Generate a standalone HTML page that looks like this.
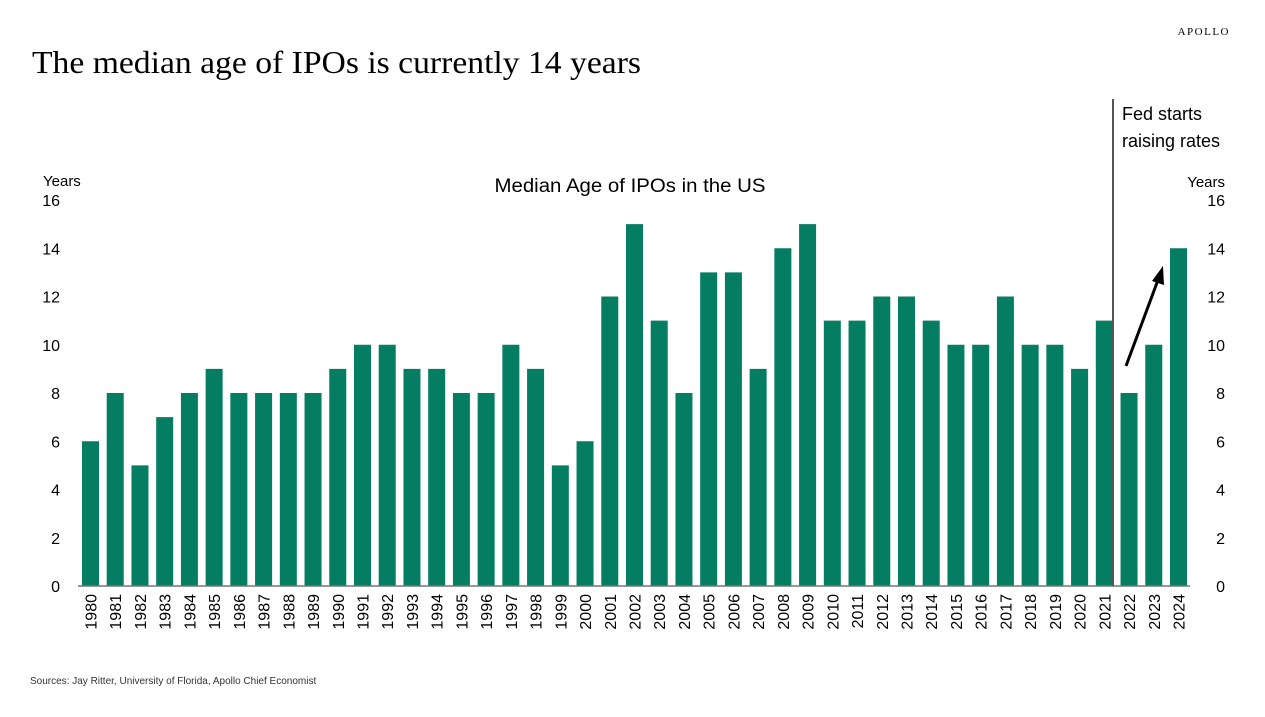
<!DOCTYPE html>
<html><head><meta charset="utf-8"><style>
body{margin:0;width:1265px;height:712px;background:#fff;overflow:hidden;font-family:"Liberation Sans",sans-serif}
</style></head><body>
<svg width="1265" height="712" xmlns="http://www.w3.org/2000/svg">
<text x="1230" y="35" text-anchor="end" font-family="Liberation Serif" font-size="11" letter-spacing="1.5">APOLLO</text>
<text x="32" y="73" font-family="Liberation Serif" font-size="32" textLength="609" lengthAdjust="spacingAndGlyphs">The median age of IPOs is currently 14 years</text>
<text x="630" y="192" text-anchor="middle" font-size="19" textLength="271" lengthAdjust="spacingAndGlyphs">Median Age of IPOs in the US</text>
<text x="43" y="186" font-size="15">Years</text>
<text x="1225" y="187" text-anchor="end" font-size="15">Years</text>
<g id="bars"></g><g id="ticks"></g>
<line x1="1113" y1="99" x2="1113" y2="586" stroke="#555" stroke-width="2"/>
<text x="1122" y="120" font-size="18"><tspan x="1122">Fed starts</tspan><tspan x="1122" dy="27">raising rates</tspan></text>
<line x1="1126" y1="366" x2="1158" y2="280" stroke="#000" stroke-width="3"/>
<polygon points="1163,266 1152,281 1164,285" fill="#000"/>
<text x="30" y="684" font-size="10" fill="#333">Sources: Jay Ritter, University of Florida, Apollo Chief Economist</text>
</svg>
<script>
const years=[];for(let y=1980;y<=2024;y++)years.push(String(y));
const values=[6,8,5,7,8,9,8,8,8,8,9,10,10,9,9,8,8,10,9,5,6,12,15,11,8,13,13,9,14,15,11,11,12,12,11,10,10,12,10,10,9,11,8,10,14];
const yTicks=[0,2,4,6,8,10,12,14,16];
const NS="http://www.w3.org/2000/svg";
const y0=586,yTop=200,vmax=16;
const yS=v=>y0-(y0-yTop)*v/vmax;
const x0=82,pitch=(1170-82)/44,bw=17;
const xS=i=>x0+i*pitch;
const bars=document.getElementById('bars'),ticks=document.getElementById('ticks');
values.forEach((v,i)=>{
 const r=document.createElementNS(NS,'rect');
 r.setAttribute('x',xS(i));r.setAttribute('y',yS(v));r.setAttribute('width',bw);r.setAttribute('height',y0-yS(v));r.setAttribute('fill','#047d62');
 
 
 bars.appendChild(r);
 const t=document.createElementNS(NS,'text');
 const cx=xS(i)+bw/2+6,ty=594;
 t.setAttribute('transform','translate('+cx+','+ty+') rotate(-90)');
 t.setAttribute('text-anchor','end');t.setAttribute('font-size','16');t.textContent=years[i];
 
 
 ticks.appendChild(t);
});
const base=document.createElementNS(NS,'line');
base.setAttribute('x1',78);base.setAttribute('x2',1190);base.setAttribute('y1',y0);base.setAttribute('y2',y0);base.setAttribute('stroke','#777');base.setAttribute('stroke-width','1.5');


ticks.appendChild(base);
yTicks.forEach(v=>{
 const a=document.createElementNS(NS,'text');
 a.setAttribute('x',60);a.setAttribute('y',yS(v)+6);a.setAttribute('text-anchor','end');a.setAttribute('font-size','16');a.textContent=v;
 
 
 ticks.appendChild(a);
 const b=document.createElementNS(NS,'text');
 b.setAttribute('x',1225);b.setAttribute('y',yS(v)+6);b.setAttribute('text-anchor','end');b.setAttribute('font-size','16');b.textContent=v;
 
 
 ticks.appendChild(b);
});
</script>
</body></html>
